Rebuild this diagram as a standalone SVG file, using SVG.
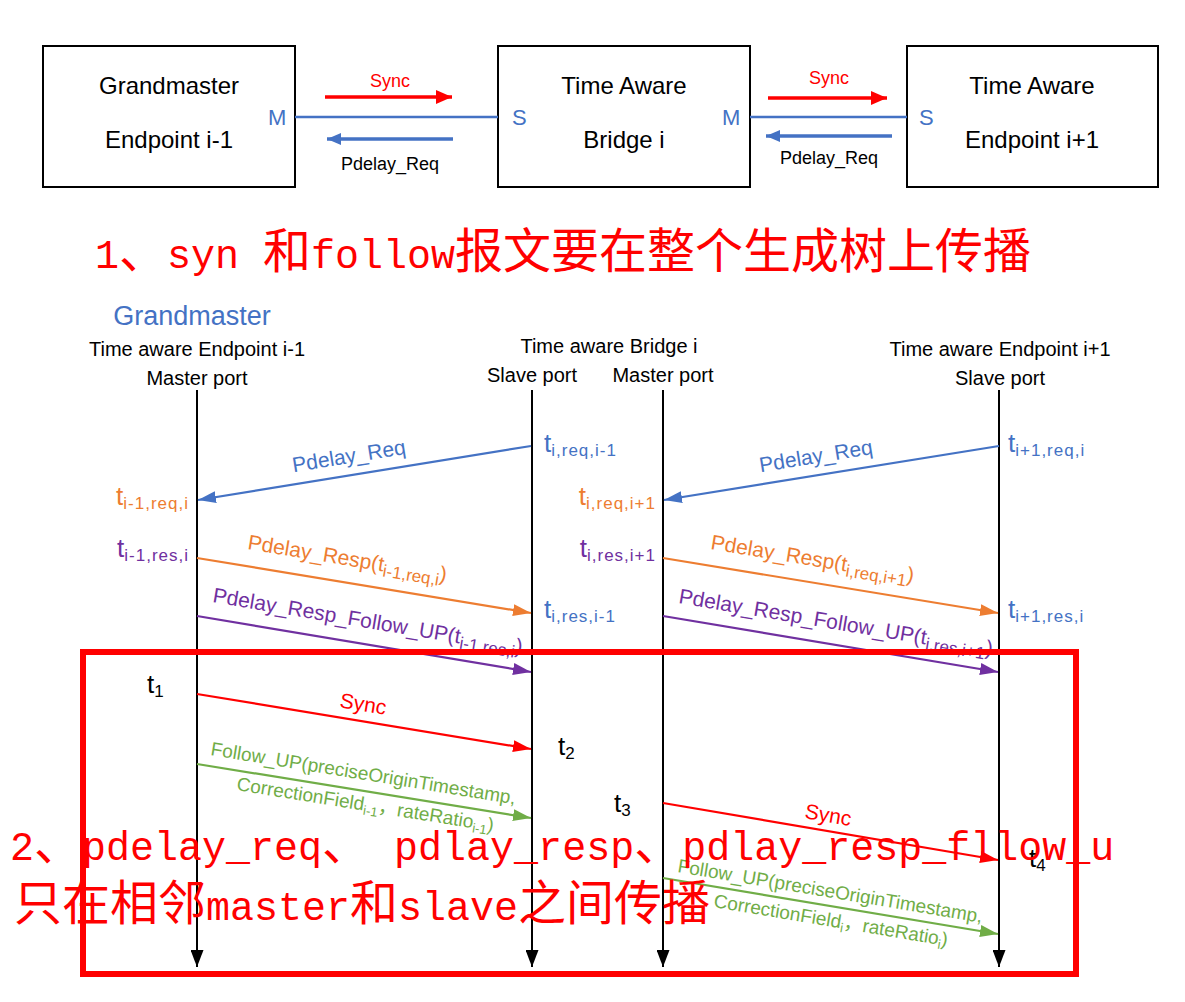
<svg xmlns="http://www.w3.org/2000/svg" width="1185" height="1002" viewBox="0 0 1185 1002">
<style>
text{font-family:"Liberation Sans","Noto Sans CJK SC",Arial,sans-serif}
.box{fill:#fff;stroke:#000;stroke-width:2}
.bt{font-size:24px;fill:#000;text-anchor:middle}
.port{font-size:22px;fill:#4472C4}
.tl{font-size:18px}
.hdr{font-size:20px;fill:#000;text-anchor:middle}
.gm{font-size:27px;fill:#4472C4;text-anchor:middle}
.life{stroke:#000;stroke-width:2;fill:none}
.ts{font-size:26px}
.sub{font-size:17px}
.tsub{font-size:17px;letter-spacing:1px}
.msg{stroke-width:2.2;fill:none}
.lbl{font-size:21px}
.lg{font-size:19px;fill:#70AD47}
.blue{fill:#4472C4}.orange{fill:#ED7D31}.purple{fill:#7030A0}.red{fill:#FF0000}.green{fill:#70AD47}.black{fill:#000}
.cn{font-family:"Liberation Mono","Noto Sans CJK SC",monospace;font-size:48px;fill:#FF0000}
.lat{font-size:40px}
</style>
<defs>
<marker id="hb" markerUnits="userSpaceOnUse" markerWidth="18" markerHeight="12" refX="18" refY="6" orient="auto"><path d="M0,0 L18,6 L0,12 z" fill="#4472C4"/></marker>
<marker id="ho" markerUnits="userSpaceOnUse" markerWidth="18" markerHeight="12" refX="18" refY="6" orient="auto"><path d="M0,0 L18,6 L0,12 z" fill="#ED7D31"/></marker>
<marker id="hp" markerUnits="userSpaceOnUse" markerWidth="18" markerHeight="12" refX="18" refY="6" orient="auto"><path d="M0,0 L18,6 L0,12 z" fill="#7030A0"/></marker>
<marker id="hr" markerUnits="userSpaceOnUse" markerWidth="18" markerHeight="12" refX="18" refY="6" orient="auto"><path d="M0,0 L18,6 L0,12 z" fill="#FF0000"/></marker>
<marker id="hg" markerUnits="userSpaceOnUse" markerWidth="18" markerHeight="12" refX="18" refY="6" orient="auto"><path d="M0,0 L18,6 L0,12 z" fill="#70AD47"/></marker>
<marker id="hk" markerUnits="userSpaceOnUse" markerWidth="17" markerHeight="13" refX="17" refY="6.5" orient="auto"><path d="M0,0 L17,6.5 L0,13 z" fill="#000"/></marker>
<marker id="tr" markerUnits="userSpaceOnUse" markerWidth="16" markerHeight="14" refX="16" refY="7" orient="auto"><path d="M0,0 L16,7 L0,14 z" fill="#FF0000"/></marker>
<marker id="tb" markerUnits="userSpaceOnUse" markerWidth="14" markerHeight="12" refX="14" refY="6" orient="auto"><path d="M0,0 L14,6 L0,12 z" fill="#4472C4"/></marker>
</defs>
<rect width="1185" height="1002" fill="#fff"/>

<g id="node-grandmaster">
<rect class="box" x="43" y="46" width="252" height="141"/>
<text class="bt" x="169" y="94">Grandmaster</text>
<text class="bt" x="169" y="148">Endpoint i-1</text>
<text class="port" x="268" y="125">M</text>
</g>
<g id="node-bridge">
<rect class="box" x="498" y="46" width="252" height="141"/>
<text class="bt" x="624" y="94">Time Aware</text>
<text class="bt" x="624" y="148">Bridge i</text>
<text class="port" x="512" y="125">S</text>
<text class="port" x="722" y="125">M</text>
</g>
<g id="node-endpoint">
<rect class="box" x="907" y="46" width="251" height="141"/>
<text class="bt" x="1032" y="94">Time Aware</text>
<text class="bt" x="1032" y="148">Endpoint i+1</text>
<text class="port" x="919" y="125">S</text>
</g>

<g id="top-connectors">
<line x1="295" y1="117" x2="498" y2="117" stroke="#4472C4" stroke-width="2.5"/>
<line x1="750" y1="117" x2="907" y2="117" stroke="#4472C4" stroke-width="2.5"/>
<line x1="325" y1="97" x2="452" y2="97" stroke="#FF0000" stroke-width="3.5" marker-end="url(#tr)"/>
<line x1="768" y1="98" x2="887" y2="98" stroke="#FF0000" stroke-width="3.5" marker-end="url(#tr)"/>
<line x1="453" y1="139" x2="327" y2="139" stroke="#4472C4" stroke-width="3.5" marker-end="url(#tb)"/>
<line x1="892" y1="136" x2="766" y2="136" stroke="#4472C4" stroke-width="3.5" marker-end="url(#tb)"/>
<text class="tl red" x="390" y="87" text-anchor="middle">Sync</text>
<text class="tl red" x="829" y="84" text-anchor="middle">Sync</text>
<text class="tl black" x="390" y="170" text-anchor="middle">Pdelay_Req</text>
<text class="tl black" x="829" y="164" text-anchor="middle">Pdelay_Req</text>
</g>

<text class="cn" x="95" y="268"><tspan class="lat">1</tspan>、<tspan class="lat">syn </tspan>和<tspan class="lat">follow</tspan>报文要在整个生成树上传播</text>

<g id="lifeline-endpoint-i-1">
<text class="gm" x="192" y="325">Grandmaster</text>
<text class="hdr" x="197" y="356">Time aware Endpoint i-1</text>
<text class="hdr" x="197" y="385">Master port</text>
<line class="life" x1="197" y1="390" x2="197" y2="967" marker-end="url(#hk)"/>
</g>
<g id="lifeline-bridge-slave">
<text class="hdr" x="609" y="353">Time aware Bridge i</text>
<text class="hdr" x="532" y="382">Slave port</text>
<line class="life" x1="532" y1="390" x2="532" y2="967" marker-end="url(#hk)"/>
</g>
<g id="lifeline-bridge-master">
<text class="hdr" x="663" y="382">Master port</text>
<line class="life" x1="663" y1="390" x2="663" y2="967" marker-end="url(#hk)"/>
</g>
<g id="lifeline-endpoint-i+1">
<text class="hdr" x="1000" y="356">Time aware Endpoint i+1</text>
<text class="hdr" x="1000" y="385">Slave port</text>
<line class="life" x1="999" y1="390" x2="999" y2="967" marker-end="url(#hk)"/>
</g>

<g id="connectors">
<line class="msg" x1="531" y1="446" x2="198" y2="500" stroke="#4472C4" marker-end="url(#hb)"/>
<line class="msg" x1="999" y1="446" x2="664" y2="500" stroke="#4472C4" marker-end="url(#hb)"/>
<line class="msg" x1="197" y1="558" x2="531" y2="613" stroke="#ED7D31" marker-end="url(#ho)"/>
<line class="msg" x1="663" y1="558" x2="998" y2="613" stroke="#ED7D31" marker-end="url(#ho)"/>
<line class="msg" x1="197" y1="616" x2="531" y2="672" stroke="#7030A0" marker-end="url(#hp)"/>
<line class="msg" x1="663" y1="616" x2="998" y2="672" stroke="#7030A0" marker-end="url(#hp)"/>
<line class="msg" x1="197" y1="694" x2="531" y2="749" stroke="#FF0000" marker-end="url(#hr)"/>
<line class="msg" x1="197" y1="764" x2="531" y2="818" stroke="#70AD47" marker-end="url(#hg)"/>
<line class="msg" x1="663" y1="803" x2="998" y2="860" stroke="#FF0000" marker-end="url(#hr)"/>
<line class="msg" x1="663" y1="878" x2="998" y2="934" stroke="#70AD47" marker-end="url(#hg)"/>
</g>

<g id="message-labels">
<text class="lbl blue" text-anchor="middle" transform="translate(350,463) rotate(-9.18)">Pdelay_Req</text>
<text class="lbl blue" text-anchor="middle" transform="translate(817,463) rotate(-9.18)">Pdelay_Req</text>
<text class="lbl orange" transform="translate(247,549) rotate(9.35)">Pdelay_Resp(t<tspan class="sub" dy="5">i-1,req,i</tspan><tspan dy="-5">)</tspan></text>
<text class="lbl orange" transform="translate(710,549) rotate(9.35)">Pdelay_Resp(t<tspan class="sub" dy="5">i,req,i+1</tspan><tspan dy="-5">)</tspan></text>
<text class="lbl purple" transform="translate(212,602) rotate(9.52)">Pdelay_Resp_Follow_UP(t<tspan class="sub" dy="5">i-1,res,i</tspan><tspan dy="-5">)</tspan></text>
<text class="lbl purple" transform="translate(678,603) rotate(9.52)">Pdelay_Resp_Follow_UP(t<tspan class="sub" dy="5">i,res,i+1</tspan><tspan dy="-5">)</tspan></text>
<text class="lbl red" font-size="20" text-anchor="middle" transform="translate(362,711) rotate(9.35)">Sync</text>
<text class="lbl red" font-size="20" text-anchor="middle" transform="translate(827,822) rotate(9.63)">Sync</text>
<text class="lg" transform="translate(210,755) rotate(9.18)">Follow_UP(preciseOriginTimestamp,</text>
<text class="lg" transform="translate(236,790) rotate(9.18)">CorrectionField<tspan font-size="13" dy="4">i-1</tspan><tspan dy="-4">，rateRatio</tspan><tspan font-size="13" dy="4">i-1</tspan><tspan dy="-4">)</tspan></text>
<text class="lg" transform="translate(677,872) rotate(9.46)">Follow_UP(preciseOriginTimestamp,</text>
<text class="lg" transform="translate(713,907) rotate(9.46)">CorrectionField<tspan font-size="13" dy="4">i</tspan><tspan dy="-4">，rateRatio</tspan><tspan font-size="13" dy="4">i</tspan><tspan dy="-4">)</tspan></text>
</g>

<g id="timestamps">
<text class="ts blue" x="544" y="452">t<tspan class="tsub" dy="4">i,req,i-1</tspan></text>
<text class="ts orange" x="189" y="505" text-anchor="end">t<tspan class="tsub" dy="4">i-1,req,i</tspan></text>
<text class="ts purple" x="189" y="557" text-anchor="end">t<tspan class="tsub" dy="4">i-1,res,i</tspan></text>
<text class="ts blue" x="544" y="618">t<tspan class="tsub" dy="4">i,res,i-1</tspan></text>
<text class="ts orange" x="656" y="505" text-anchor="end">t<tspan class="tsub" dy="4">i,req,i+1</tspan></text>
<text class="ts purple" x="656" y="557" text-anchor="end">t<tspan class="tsub" dy="4">i,res,i+1</tspan></text>
<text class="ts blue" x="1008" y="452">t<tspan class="tsub" dy="4">i+1,req,i</tspan></text>
<text class="ts blue" x="1008" y="618">t<tspan class="tsub" dy="4">i+1,res,i</tspan></text>
<text class="ts black" x="147" y="693">t<tspan class="sub" dy="4">1</tspan></text>
<text class="ts black" x="558" y="755">t<tspan class="sub" dy="4">2</tspan></text>
<text class="ts black" x="614" y="812">t<tspan class="sub" dy="4">3</tspan></text>
<text class="ts black" x="1029" y="867">t<tspan class="sub" dy="4">4</tspan></text>
</g>

<rect x="83" y="652" width="993" height="322" fill="none" stroke="#FF0000" stroke-width="6"/>

<text class="cn" x="10" y="860"><tspan class="lat">2</tspan>、<tspan class="lat">pdelay_req</tspan>、<tspan class="lat"> pdlay_resp</tspan>、<tspan class="lat">pdlay_resp_fllow_u</tspan></text>
<text class="cn" x="14" y="920">只在相邻<tspan class="lat">master</tspan>和<tspan class="lat">slave</tspan>之间传播</text>
</svg>
